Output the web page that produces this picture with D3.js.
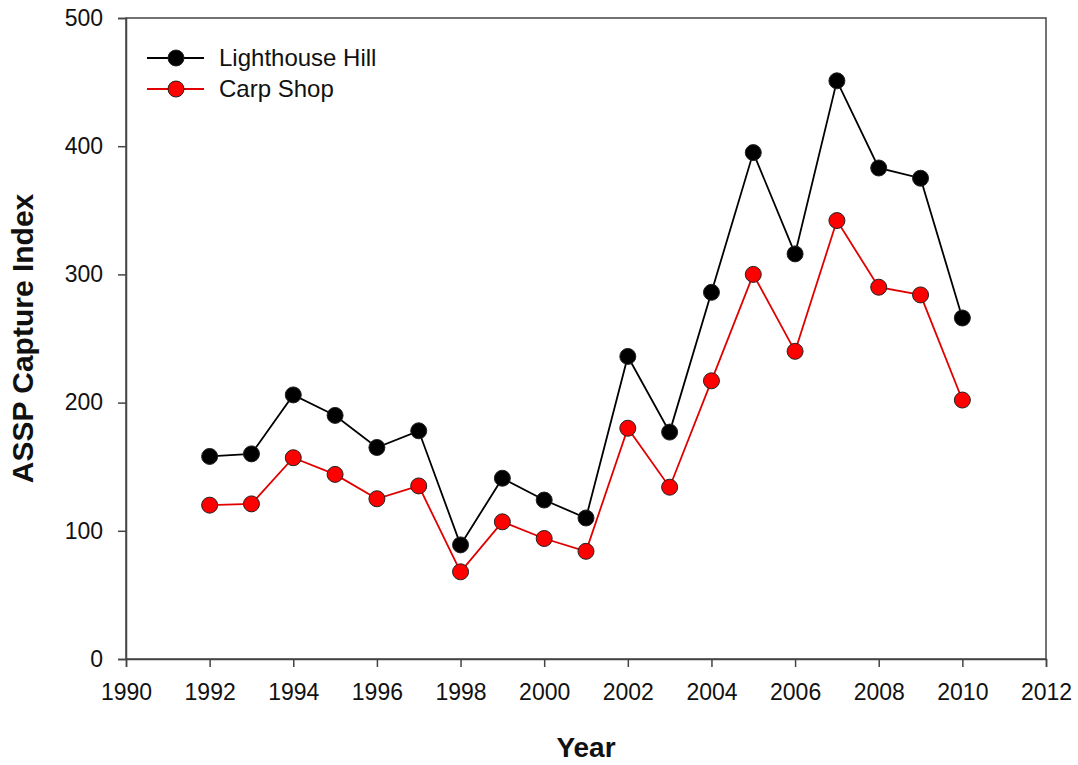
<!DOCTYPE html>
<html>
<head>
<meta charset="utf-8">
<script src="https://cdn.jsdelivr.net/npm/d3@7"></script>
<style>
  body { margin: 0; background: #fff; }
  svg text { font-family: "Liberation Sans", Arial, sans-serif; fill: #111; }
</style>
</head>
<body>
<div id="chart"></div>
<script>
// data
const years = [1992, 1993, 1994, 1995, 1996, 1997, 1998, 1999, 2000, 2001,
               2002, 2003, 2004, 2005, 2006, 2007, 2008, 2009, 2010];
const lighthouseHill = [158, 160, 206, 190, 165, 178, 89, 141, 124, 110,
                        236, 177, 286, 395, 316, 451, 383, 375, 266];
const carpShop = [120, 121, 157, 144, 125, 135, 68, 107, 94, 84,
                  180, 134, 217, 300, 240, 342, 290, 284, 202];
const xTicks = [1990, 1992, 1994, 1996, 1998, 2000, 2002, 2004, 2006, 2008, 2010, 2012];
const yTicks = [0, 100, 200, 300, 400, 500];

const series = [
    { name: 'Lighthouse Hill', values: lighthouseHill, line: '#000', fill: '#000' },
    { name: 'Carp Shop', values: carpShop, line: '#e00000', fill: '#ff0000' }
];

const width = 1078, height = 765;
const margin = { left: 126, right: 32, top: 18, bottom: 106 };
const axisColor = '#444';

const svg = d3.select('#chart').append('svg')
    .attr('width', width)
    .attr('height', height);

const x = d3.scaleLinear().domain([1990, 2012]).range([margin.left, width - margin.right]);
const y = d3.scaleLinear().domain([0, 500]).range([height - margin.bottom, margin.top]);

// frame
svg.append('rect')
    .attr('x', x(1990)).attr('y', y(500))
    .attr('width', x(2012) - x(1990)).attr('height', y(0) - y(500))
    .attr('fill', 'none').attr('stroke', axisColor).attr('stroke-width', 1.5);

const xAxis = svg.append('g')
    .attr('transform', `translate(0,${y(0)})`)
    .call(d3.axisBottom(x).tickValues(xTicks).tickFormat(d3.format('d')).tickSizeOuter(0).tickSize(8).tickPadding(17));

const yAxis = svg.append('g')
    .attr('transform', `translate(${x(1990)},0)`)
    .call(d3.axisLeft(y).tickValues(yTicks).tickSizeOuter(0).tickSize(8).tickPadding(15));

[xAxis, yAxis].forEach(g => {
    g.select('.domain').attr('stroke', axisColor).attr('stroke-width', 1.5);
    g.selectAll('.tick line').attr('stroke', axisColor).attr('stroke-width', 1.5);
    g.selectAll('.tick text').attr('font-size', 23).attr('fill', '#111')
        .attr('font-family', '"Liberation Sans", Arial, sans-serif');
});

// axis titles
svg.append('text')
    .attr('x', (x(1990) + x(2012)) / 2)
    .attr('y', 757)
    .attr('text-anchor', 'middle')
    .attr('font-size', 28).attr('font-weight', 'bold')
    .text('Year');

svg.append('text')
    .attr('transform', `translate(33,${(y(0) + y(500)) / 2}) rotate(-90)`)
    .attr('text-anchor', 'middle')
    .attr('font-size', 30).attr('font-weight', 'bold')
    .text('ASSP Capture Index');

const line = d3.line()
    .x((d, i) => x(years[i]))
    .y(d => y(d));

series.forEach(s => {
    svg.append('path')
        .datum(s.values)
        .attr('d', line)
        .attr('fill', 'none')
        .attr('stroke', s.line)
        .attr('stroke-width', 1.8);

    svg.append('g')
        .selectAll('circle')
        .data(s.values)
        .enter().append('circle')
        .attr('cx', (d, i) => x(years[i]))
        .attr('cy', d => y(d))
        .attr('r', 8)
        .attr('fill', s.fill)
        .attr('stroke', '#222')
        .attr('stroke-width', 1);
});

// legend
const legend = svg.append('g').attr('transform', 'translate(147,58)');
series.forEach((s, i) => {
    const row = legend.append('g').attr('transform', `translate(0,${i * 31})`);
    row.append('line')
        .attr('x1', 0).attr('x2', 57)
        .attr('stroke', s.line).attr('stroke-width', 1.8);
    row.append('circle')
        .attr('cx', 29).attr('r', 8)
        .attr('fill', s.fill).attr('stroke', '#222').attr('stroke-width', 1);
    row.append('text')
        .attr('x', 72).attr('dy', '0.35em')
        .attr('font-size', 24)
        .text(s.name);
});
</script>
</body>
</html>
